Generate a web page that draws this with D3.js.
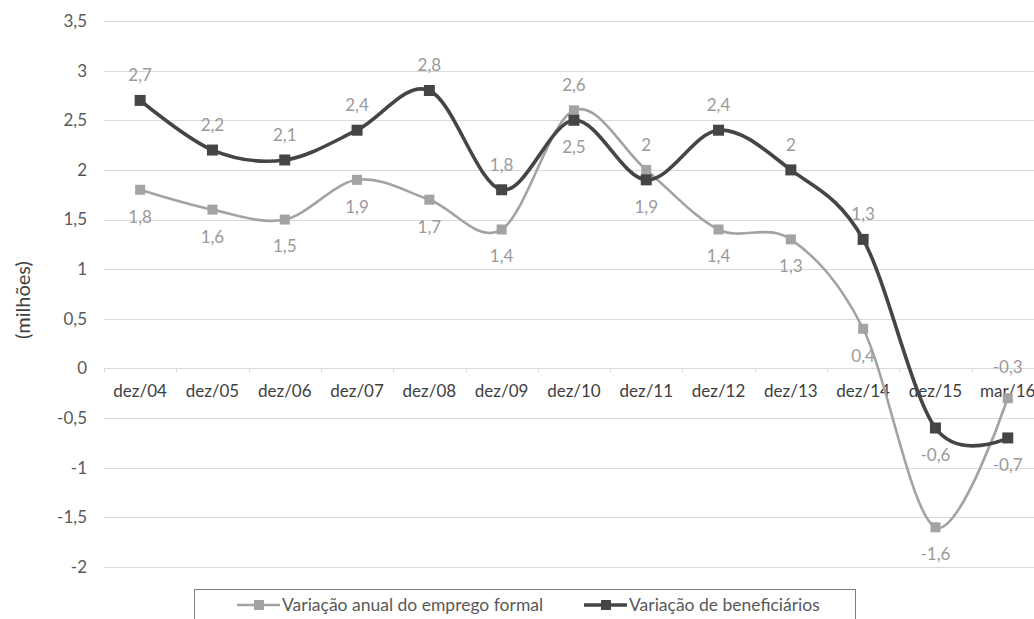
<!DOCTYPE html>
<html>
<head>
<meta charset="utf-8">
<script src="https://cdn.jsdelivr.net/npm/d3@7"></script>
<style>
  html, body { margin: 0; padding: 0; background: #fff; }
  svg { display: block; font-family: Lato, "Open Sans", sans-serif; }
</style>
</head>
<body>
<svg id="chart" width="1034" height="619"></svg>
<script>
// Periods on the horizontal axis
const categories = ["dez/04","dez/05","dez/06","dez/07","dez/08","dez/09","dez/10","dez/11","dez/12","dez/13","dez/14","dez/15","mar/16"];
// Annual change in formal employment (millions)
const empregoFormal = [1.8, 1.6, 1.5, 1.9, 1.7, 1.4, 2.6, 2.0, 1.4, 1.3, 0.4, -1.6, -0.3];
// Change in number of health-plan beneficiaries (millions)
const beneficiarios = [2.7, 2.2, 2.1, 2.4, 2.8, 1.8, 2.5, 1.9, 2.4, 2.0, 1.3, -0.6, -0.7];
// Label placement per point: true = above the marker
const empregoLabelAbove = [false,false,false,false,false,false,true,true,false,false,false,false,true];
const beneficLabelAbove = [true,true,true,true,true,true,false,false,true,true,true,false,false];
const yTicks = [3.5, 3, 2.5, 2, 1.5, 1, 0.5, 0, -0.5, -1, -1.5, -2];
const seriesNames = ["Variação anual do emprego formal", "Variação de beneficiários"];

const svg = d3.select("#chart");
const fmt = v => String(v).replace(".", ",");

const x = d3.scaleBand().domain(categories).range([104, 104 + 13 * 72.3]);
const y = d3.scaleLinear().domain([-2, 3.5]).range([567, 21]);
const cx = c => x(c) + x.bandwidth() / 2;

// horizontal gridlines
svg.append("g").selectAll("line").data(yTicks).join("line")
  .attr("x1", 104).attr("x2", 1044)
  .attr("y1", d => Math.round(y(d)) + 0.5).attr("y2", d => Math.round(y(d)) + 0.5)
  .attr("stroke", "#d9d9d9").attr("stroke-width", 1);

// y tick labels
svg.append("g").selectAll("text").data(yTicks).join("text")
  .attr("x", 87).attr("y", d => y(d)).attr("dy", "0.35em")
  .attr("text-anchor", "end").attr("font-size", 17).attr("fill", "#595959")
  .text(fmt);

// category ticks along the zero line
const zeroY = Math.round(y(0)) + 0.5;
const catLabelY = zeroY + 23;
svg.append("g").selectAll("line").data(d3.range(categories.length + 1)).join("line")
  .attr("x1", i => Math.round(104 + i * x.bandwidth()) + 0.5)
  .attr("x2", i => Math.round(104 + i * x.bandwidth()) + 0.5)
  .attr("y1", zeroY - 1).attr("y2", zeroY + 4)
  .attr("stroke", "#d9d9d9");

// category labels
svg.append("g").selectAll("text").data(categories).join("text")
  .attr("x", cx).attr("y", catLabelY).attr("dy", "0.35em")
  .attr("text-anchor", "middle").attr("font-size", 17).attr("fill", "#404040")
  .text(d => d);

// y axis title
svg.append("text")
  .attr("transform", "translate(23,300) rotate(-90)")
  .attr("text-anchor", "middle").attr("dy", "0.35em")
  .attr("font-size", 20).attr("fill", "#404040")
  .text("(milhões)");

const line = d3.line().x((d, i) => cx(categories[i])).y(d => y(d))
  .curve(d3.curveCardinal.tension(0));

const series = [
  { values: empregoFormal, above: empregoLabelAbove, color: "#a3a3a3", width: 2.6, size: 10 },
  { values: beneficiarios, above: beneficLabelAbove, color: "#454545", width: 3.6, size: 11 }
];

series.forEach(s => {
  svg.append("path").datum(s.values)
    .attr("d", line).attr("fill", "none")
    .attr("stroke", s.color).attr("stroke-width", s.width)
    .attr("stroke-linejoin", "round");
  svg.append("g").selectAll("rect").data(s.values).join("rect")
    .attr("x", (d, i) => cx(categories[i]) - s.size / 2)
    .attr("y", d => y(d) - s.size / 2)
    .attr("width", s.size).attr("height", s.size)
    .attr("fill", s.color);
});

// data labels; a label above its marker that would run into the
// category labels is lifted clear of them
function labelY(v, above) {
  if (!above) return y(v) + 27;
  let ly = y(v) - 25;
  if (ly > catLabelY - 24 && ly < catLabelY + 14) ly = catLabelY - 24;
  return ly;
}
series.forEach(s => {
  svg.append("g").selectAll("text").data(s.values).join("text")
    .attr("x", (d, i) => cx(categories[i]))
    .attr("y", (d, i) => labelY(d, s.above[i]))
    .attr("dy", "0.35em").attr("text-anchor", "middle")
    .attr("font-size", 17).attr("fill", "#9a9a9a")
    .text(fmt);
});

// legend
const legend = svg.append("g");
legend.append("rect")
  .attr("x", 194.5).attr("y", 589.5).attr("width", 661).attr("height", 40)
  .attr("fill", "#fff").attr("stroke", "#808080").attr("stroke-width", 1);
const legendItems = [
  { name: seriesNames[0], color: series[0].color, x0: 237, width: series[0].width },
  { name: seriesNames[1], color: series[1].color, x0: 584, width: series[1].width }
];
legendItems.forEach(it => {
  legend.append("line")
    .attr("x1", it.x0).attr("x2", it.x0 + 43).attr("y1", 605).attr("y2", 605)
    .attr("stroke", it.color).attr("stroke-width", it.width);
  legend.append("rect")
    .attr("x", it.x0 + 17).attr("y", 600).attr("width", 10).attr("height", 10)
    .attr("fill", it.color);
  legend.append("text")
    .attr("x", it.x0 + 45).attr("y", 605).attr("dy", "0.35em")
    .attr("font-size", 17.5).attr("fill", "#595959")
    .text(it.name);
});
</script>
</body>
</html>
